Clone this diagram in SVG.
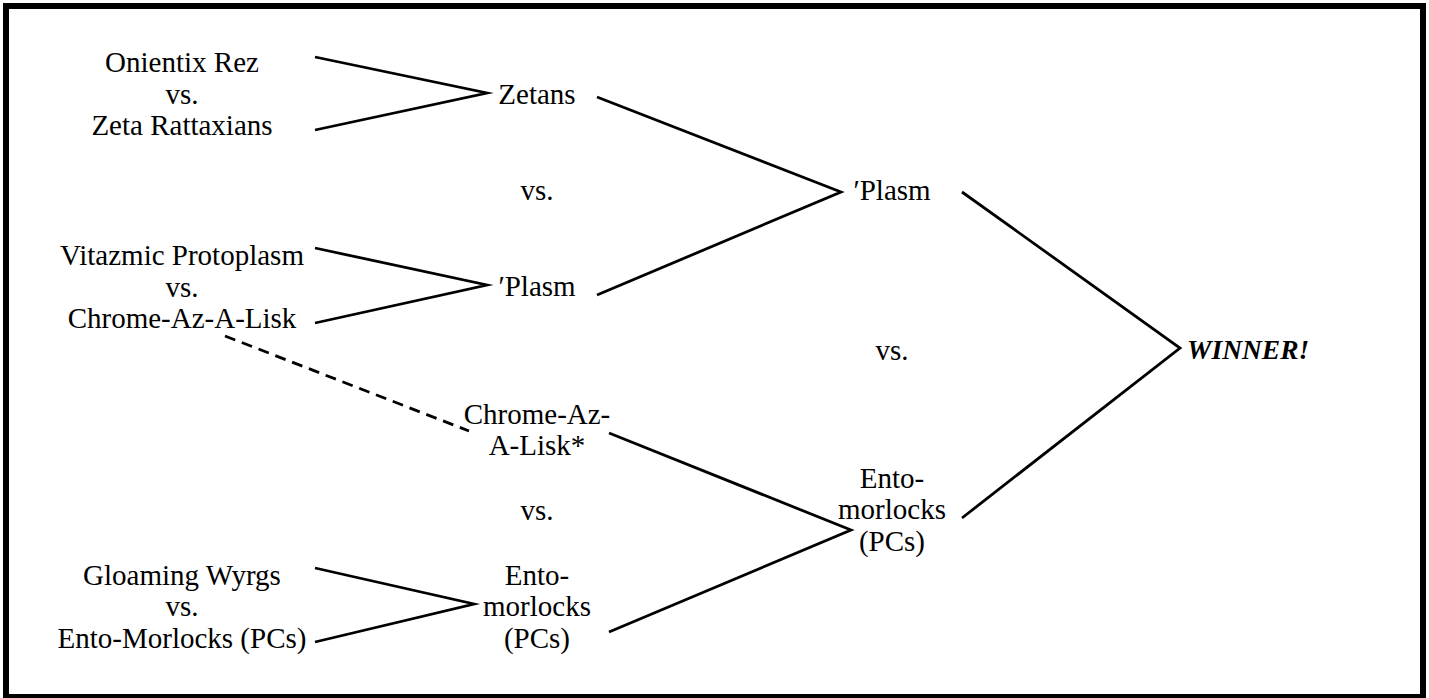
<svg xmlns="http://www.w3.org/2000/svg" width="1429" height="698" viewBox="0 0 1429 698">
<style>
text{font-family:"Liberation Serif","Times New Roman",serif;font-size:29px;fill:#000;text-anchor:middle}
.w{font-weight:bold;font-style:italic;text-anchor:start;font-size:27.5px}
.ln{fill:none;stroke:#000;stroke-width:2.8;stroke-linejoin:miter;stroke-miterlimit:20}
.dash{stroke-dasharray:11 7;stroke-linejoin:round}
</style>
<rect x="6" y="6" width="1417" height="691" fill="#fff" stroke="#000" stroke-width="6"/>
<g id="connectors">
<polyline class="ln" points="315,57 487,93 315,130"/>
<polyline class="ln" points="315,248 487,285 315,323"/>
<polyline class="ln" points="315,568 474,604 315,642"/>
<polyline class="ln" points="597,97 841,192 597,295"/>
<polyline class="ln" points="609,433 851,530 609,632"/>
<polyline class="ln" points="962,192 1180,348 962,518"/>
<line class="ln dash" x1="225" y1="336" x2="469" y2="431"/>
</g>
<g id="m1"><text x="182" y="72">Onientix Rez</text><text x="182" y="103.5">vs.</text><text x="182" y="135">Zeta Rattaxians</text></g>
<g id="m2"><text x="182" y="265">Vitazmic Protoplasm</text><text x="182" y="296.5">vs.</text><text x="182" y="328">Chrome-Az-A-Lisk</text></g>
<g id="m4"><text x="182" y="584.5">Gloaming Wyrgs</text><text x="182" y="616">vs.</text><text x="182" y="647.5">Ento-Morlocks (PCs)</text></g>
<g id="zetans"><text x="537" y="104">Zetans</text></g>
<g id="vs1"><text x="537" y="200">vs.</text></g>
<g id="plasm1"><text x="537" y="296">′Plasm</text></g>
<g id="chrome"><text x="537" y="423.5">Chrome-Az-</text><text x="537" y="455">A-Lisk*</text></g>
<g id="vs2"><text x="537" y="520">vs.</text></g>
<g id="ento1"><text x="537" y="584.5">Ento-</text><text x="537" y="616">morlocks</text><text x="537" y="647.5">(PCs)</text></g>
<g id="plasm2"><text x="892" y="200">′Plasm</text></g>
<g id="vs3"><text x="892" y="360">vs.</text></g>
<g id="ento2"><text x="892" y="487.5">Ento-</text><text x="892" y="519">morlocks</text><text x="892" y="550.5">(PCs)</text></g>
<g id="winner"><text class="w" x="1187" y="359">WINNER!</text></g>
</svg>
